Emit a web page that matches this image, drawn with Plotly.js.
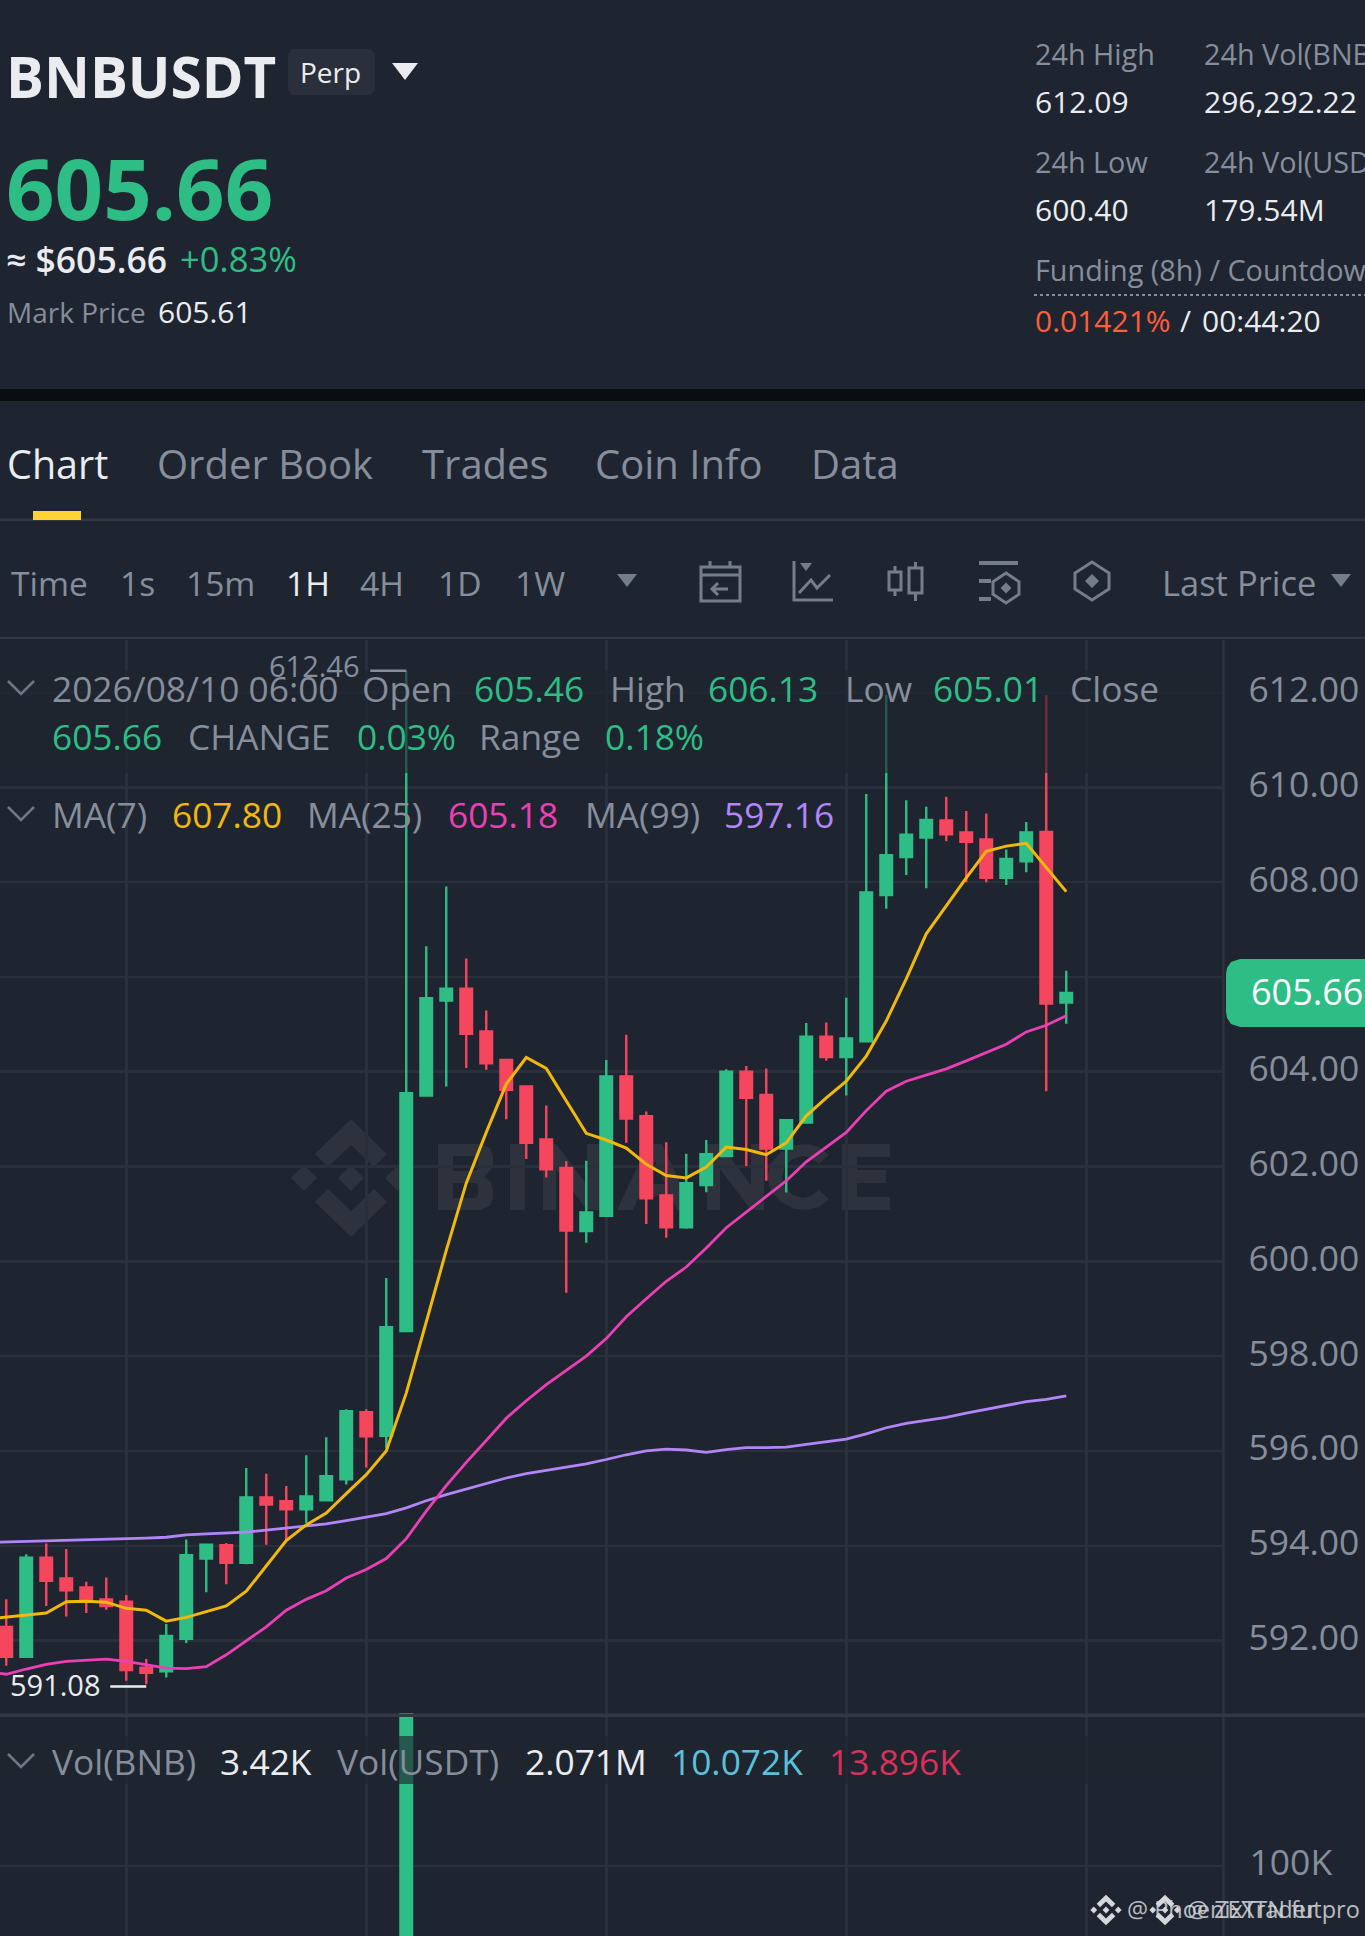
<!DOCTYPE html>
<html><head><meta charset="utf-8">
<script src="https://cdn.plot.ly/plotly-3.0.1.min.js"></script>
<style>html,body{margin:0;padding:0;background:#1e2530;overflow:hidden}#c{width:1365px;height:1936px}</style>
</head><body><div id="c"></div>
<script>
// ---------- data ----------
const opens  = [592.29,591.66,593.75,593.31,593.12,592.87,592.82,591.43,591.35,592.04,593.73,594.01,593.64,595.02,594.94,594.77,594.96,595.40,596.82,596.32,598.53,603.50,605.50,605.75,604.85,604.25,603.69,602.57,601.97,600.64,600.96,603.90,603.06,601.39,600.72,601.61,602.22,604.00,603.51,602.38,602.93,604.74,604.31,604.64,607.73,608.53,608.94,609.30,609.05,608.90,608.09,608.44,609.06,605.46];
const closes = [591.66,593.75,593.26,593.06,592.84,592.73,591.38,591.32,592.10,593.80,594.02,593.64,595.02,594.87,594.77,595.04,595.47,596.84,596.31,598.61,603.55,605.55,605.75,604.80,604.18,603.62,602.50,601.94,600.65,601.03,603.90,603.01,601.33,600.72,601.65,602.26,604.00,603.45,602.38,602.98,604.74,604.31,604.70,607.78,608.57,609.00,609.31,609.01,608.85,608.09,608.49,609.05,605.44,605.66];
const highs  = [592.87,593.82,594.05,593.93,593.24,593.33,592.96,591.61,592.35,594.13,594.05,594.06,595.64,595.52,595.26,595.91,596.29,596.88,596.88,599.65,612.46,606.65,607.91,606.39,605.29,604.25,603.69,603.29,602.11,602.12,604.25,604.78,603.16,602.51,602.27,602.56,604.05,604.12,604.07,603.00,605.03,605.04,605.56,609.86,611.95,609.73,609.59,609.80,609.50,609.45,608.69,609.27,611.94,606.13];
const lows   = [591.47,591.66,592.73,592.51,592.58,592.65,591.15,591.08,591.22,591.95,593.02,593.19,593.61,594.02,594.09,594.48,594.96,595.29,595.65,596.07,598.53,603.50,603.69,604.08,604.04,603.00,602.16,601.77,599.34,600.39,600.94,602.50,600.79,600.50,600.69,601.46,602.22,602.01,601.70,601.45,602.93,604.23,603.50,604.64,607.44,608.15,607.87,608.86,608.00,608.00,607.94,608.21,603.59,605.01];
const ma7    = [592.45,592.49,592.54,592.58,592.82,592.83,592.81,592.68,592.64,592.41,592.49,592.61,592.73,593.04,593.57,594.11,594.44,594.69,595.10,595.50,596.00,597.22,598.72,600.23,601.65,602.72,603.74,604.30,604.07,603.38,602.70,602.56,602.39,602.05,601.81,601.76,601.99,602.41,602.36,602.25,602.50,603.07,603.45,603.80,604.33,605.07,605.96,606.91,607.51,608.09,608.65,608.76,608.82,608.31,607.80];
const ma25   = [591.35,591.29,591.40,591.50,591.56,591.58,591.61,591.56,591.49,591.42,591.41,591.45,591.70,592.00,592.29,592.64,592.87,593.05,593.32,593.50,593.73,594.15,594.73,595.27,595.76,596.22,596.69,597.06,597.40,597.70,598.00,598.37,598.83,599.21,599.58,599.88,600.28,600.71,601.05,601.37,601.70,602.10,602.41,602.72,603.18,603.59,603.80,603.93,604.06,604.23,604.40,604.58,604.84,604.98,605.18];
const ma99   = [594.07,594.08,594.09,594.11,594.12,594.12,594.14,594.15,594.16,594.18,594.23,594.25,594.27,594.29,594.33,594.37,594.42,594.46,594.53,594.60,594.68,594.80,594.95,595.08,595.20,595.32,595.43,595.52,595.59,595.66,595.73,595.82,595.92,596.00,596.04,596.02,595.97,596.03,596.07,596.07,596.08,596.14,596.19,596.25,596.36,596.49,596.58,596.65,596.71,596.80,596.88,596.96,597.04,597.09,597.16];
const volX   = [20];
const volY   = [203000];
const priceTicks = [592,594,596,598,600,602,604,606,608,610,612];
const priceTickText = ["592.00","594.00","596.00","598.00","600.00","602.00","604.00","606.00","608.00","610.00","612.00"];
const timeTicks = [6,18,30,42,54];
const chartHigh = 612.46, chartLow = 591.08;

// ---------- helpers ----------
const W=1365,H=1936,BG='#1e2530',GRID='#2a303b',GREEN='#2ebd85',RED='#f6465d',GREY='#868e9c',WHITE='#eaecef',ICON='#757d8b',MARK='#2d323d';
const FONT='"Open Sans", Inter, sans-serif';
const X=p=>p/W, Y=p=>1-p/H;
const idx=Array.from({length:closes.length},(_,i)=>i);
const maX=[-1].concat(idx);
const ann=[],shp=[];
function T(x,y,text,size,color,o={}){ann.push({xref:'paper',yref:'paper',x:X(x-1),y:Y(y-1.2),text,showarrow:false,xanchor:o.anchor||'left',yanchor:'middle',borderpad:0,
  opacity:o.opacity===undefined?1:o.opacity,font:{family:o.family||FONT,size,color,weight:o.weight||400}});}
function path(pts,closed){return pts.map((p,i)=>(i?'L':'M')+X(p[0]).toFixed(6)+','+Y(p[1]).toFixed(6)).join(' ')+(closed?' Z':'');}
function fill(pts,color,layer,op){shp.push({type:'path',xref:'paper',yref:'paper',path:path(pts,true),fillcolor:color,opacity:op===undefined?1:op,line:{width:0},layer:layer||'above'});}
function stroke(pts,color,w,closed,dash){shp.push({type:'path',xref:'paper',yref:'paper',path:path(pts,closed),line:{color,width:w,dash:dash||'solid'},layer:'above'});}
function box(x0,y0,x1,y1,color,layer,op){fill([[x0,y0],[x1,y0],[x1,y1],[x0,y1]],color,layer,op);}
function diamond(cx,cy,r,color,layer,op){fill([[cx,cy-r],[cx+r,cy],[cx,cy+r],[cx-r,cy]],color,layer,op);}
function logo(cx,cy,s,color,layer){
  diamond(cx,cy,13*s,color,layer);diamond(cx-47*s,cy,13*s,color,layer);diamond(cx+47*s,cy,13*s,color,layer);
  const ch=[[0,-59],[36,-24],[23,-11],[0,-33],[-23,-11],[-36,-24]];
  fill(ch.map(p=>[cx+p[0]*s,cy+p[1]*s]),color,layer);
  fill(ch.map(p=>[cx+p[0]*s,cy-p[1]*s]),color,layer);
}
function glyph(x0,y0,subs){shp.push({type:'path',xref:'paper',yref:'paper',layer:'below',fillcolor:MARK,line:{width:0},path:subs.map(s=>path(s.map(p=>[x0+p[0],y0+p[1]]),true)).join(' ')});}
function hex(cx,cy,hw,hh,c,w){const k=hh*0.42;stroke([[cx,cy-hh],[cx+hw,cy-k],[cx+hw,cy+k],[cx,cy+hh],[cx-hw,cy+k],[cx-hw,cy-k]],c,w,true);}
function chev(y){stroke([[8,y-8],[21,y+5],[34,y-8]],'#6f7785',2.6,false);}

// ---------- header ----------
T(6,78,'BNBUSDT',56.5,WHITE,{weight:700});
fill([[292,49],[370,49],[375,54],[375,90],[370,95],[292,95],[288,90],[288,54]],'#2a303b');
T(331,73,'Perp',28,WHITE,{anchor:'center'});
fill([[392,63],[418,63],[405,80]],WHITE);
T(6,188,'605.66',85,GREEN,{weight:700});
T(6,260,'≈ $605.66',35.5,WHITE,{weight:600});
T(180,260,'+0.83%',34.6,GREEN);
T(7,313,'Mark Price',28,GREY);
T(158,313,'605.61',30,WHITE);
T(1035,55,'24h High',28.8,GREY); T(1204,55,'24h Vol(BNB)',28.8,GREY);
T(1035,103,'612.09',30,WHITE); T(1204,103,'296,292.22',30,WHITE);
T(1035,163,'24h Low',28.8,GREY); T(1204,163,'24h Vol(USDT)',28.8,GREY);
T(1035,211,'600.40',30,WHITE); T(1204,211,'179.54M',30,WHITE);
T(1035,271,'Funding (8h) / Countdown',28.8,GREY);
stroke([[1034,295],[1365,295]],GREY,2,false,'dot');
T(1035,322,'0.01421%',30,'#ff5d3b'); T(1180,322,'/',30,WHITE); T(1202,322,'00:44:20',30,WHITE);
box(0,389,W,401,'#0b0e11');
// tabs
T(7,465,'Chart',39.5,WHITE,{weight:500});
[['Order Book',157],['Trades',422],['Coin Info',595],['Data',811]].forEach(t=>T(t[1],465,t[0],40,GREY,{weight:500}));
box(0,518.5,W,521,'#313844');
box(33,511,81,520,'#fcd535');
box(0,637,W,639,'#313844');
// toolbar
T(11,584,'Time',33.5,GREY);
[['1s',120],['15m',186],['4H',360],['1D',438],['1W',515]].forEach(t=>T(t[1],584,t[0],33.5,GREY));
T(286,584,'1H',33.5,WHITE);
T(1162,584,'Last Price',34.5,GREY);
fill([[617,574],[637,574],[627,587]],ICON); fill([[1331,574],[1351,574],[1341,587]],ICON);
// calendar
stroke([[701,567],[740,567],[740,601],[701,601]],ICON,3,true); stroke([[701,575],[740,575]],ICON,3);
stroke([[710,561],[710,567]],ICON,3); stroke([[730,561],[730,567]],ICON,3);
stroke([[728,589],[712,589]],ICON,3); stroke([[718,583],[712,589],[718,595]],ICON,3);
// line chart
stroke([[794,561],[794,600],[833,600]],ICON,3); fill([[800,563],[812,563],[806,571]],ICON);
stroke([[799,593],[811,580],[817,588],[830,575]],ICON,3);
// candles
stroke([[889,572],[901,572],[901,590],[889,590]],ICON,3,true); stroke([[895,566],[895,572]],ICON,3); stroke([[895,590],[895,596]],ICON,3);
stroke([[909,568],[922,568],[922,593],[909,593]],ICON,3,true); stroke([[915.5,562],[915.5,568]],ICON,3); stroke([[915.5,593],[915.5,601]],ICON,3);
// list
stroke([[979,563],[1018,563]],ICON,4); stroke([[979,581],[991,581]],ICON,4); stroke([[979,599],[991,599]],ICON,4);
hex(1006,588,13,15,ICON,3); diamond(1006,588,5.5,ICON);
hex(1092,581,17,19,ICON,3); diamond(1092,581,7,ICON);

// ---------- chart furniture ----------
logo(351,1178,1,MARK,'below');
// BINANCE watermark sits behind the candles, so it is drawn as shapes
glyph(438,1144,[[[0,0],[42,0],[52,4],[55,12],[55,22],[50,29],[46,33],[52,37],[55,45],[55,54],[52,62],[42,66],[0,66]],[[15,12],[15,27],[38,27],[40,24],[40,15],[38,12]],[[15,39],[15,54],[38,54],[40,51],[40,42],[38,39]]]);
glyph(510,1144,[[[0,0],[15,0],[15,66],[0,66]]]);
const letterN=[[0,0],[13,0],[44,41],[44,0],[57,0],[57,66],[44,66],[13,25],[13,66],[0,66]];
glyph(543,1144,[letterN]);
glyph(617,1144,[[[31,0],[45,0],[76,66],[60,66],[54,52],[22,52],[16,66],[0,66]],[[38,17],[28,40],[48,40]]]);
glyph(707,1144,[letterN]);
glyph(767,1144,[[[40,0],[52,3],[62,11],[52,20],[44,14],[36,12],[26,15],[18,22],[15,33],[18,44],[26,51],[36,54],[44,52],[52,46],[62,55],[52,63],[40,66],[28,65],[14,58],[4,47],[0,33],[4,19],[14,8],[28,1]]]);
glyph(842,1144,[[[0,0],[48,0],[48,13],[15,13],[15,26],[44,26],[44,39],[15,39],[15,53],[48,53],[48,66],[0,66]]]);
box(0,670,1222,773,BG,'above',0.65);
box(0,1736,1222,1784,BG,'above',0.65);
stroke([[1223.5,640],[1223.5,1936]],'#2c333f',2.5);
box(0,1713.5,W,1717,'#323945');
// price tag
fill([[1240,959],[1365,959],[1365,1027],[1240,1027],[1231,1024],[1227,1018],[1226,1012],[1226,974],[1227,968],[1231,962]],GREEN);
T(1251,993,'605.66',36,'#ffffff',{weight:500});
// legends
const LS=35.3;
chev(689); chev(815); chev(1762);
[['2026/08/10 06:00',52,GREY],['Open',362,GREY],['605.46',474,GREEN],['High',610,GREY],['606.13',708,GREEN],['Low',845,GREY],['605.01',933,GREEN],['Close',1070,GREY]].forEach(t=>T(t[1],689,t[0],LS,t[2]));
[['605.66',52,GREEN],['CHANGE',188,GREY],['0.03%',357,GREEN],['Range',479,GREY],['0.18%',605,GREEN]].forEach(t=>T(t[1],737,t[0],LS,t[2]));
[['MA(7)',52,GREY],['607.80',172,'#f0b90b'],['MA(25)',307,GREY],['605.18',448,'#eb40b5'],['MA(99)',585,GREY],['597.16',724,'#b385f8']].forEach(t=>T(t[1],815,t[0],LS,t[2]));
[['Vol(BNB)',52,GREY],['3.42K',220,WHITE],['Vol(USDT)',337,GREY],['2.071M',525,WHITE],['10.072K',671,'#5cc0dc'],['13.896K',829,'#d8315b']].forEach(t=>T(t[1],1762,t[0],LS,t[2]));
// high / low marks, placed from the data
ann.push({xref:'x',yref:'y',x:18.2,y:chartHigh+0.12,text:'612.46',showarrow:false,xanchor:'right',yanchor:'middle',xshift:-8,font:{family:FONT,size:29,color:GREY}});
shp.push({type:'line',xref:'x',yref:'y',x0:18.2,x1:20,y0:chartHigh,y1:chartHigh,line:{color:GREY,width:2.5},layer:'above'});
ann.push({xref:'x',yref:'y',x:5.2,y:chartLow,text:'591.08',showarrow:false,xanchor:'right',yanchor:'middle',xshift:-7,font:{family:FONT,size:29,color:WHITE}});
shp.push({type:'line',xref:'x',yref:'y',x0:5.2,x1:7,y0:chartLow-0.05,y1:chartLow-0.05,line:{color:WHITE,width:2.5},layer:'above'});
// footer watermark
logo(1106,1910,0.26,'#d4d7dc','above'); logo(1165,1910,0.26,'#d4d7dc','above');
T(1127,1910,'@ PhoenixTrader',23.5,'#d4d7dc',{opacity:0.85});
T(1187,1910,'@ ZEXTN futpro',23.5,'#d4d7dc',{opacity:0.85});

// ---------- traces ----------
const line=(y,c,w)=>({type:'scatter',mode:'lines',x:maX,y,line:{color:c,width:w},hoverinfo:'skip',showlegend:false,xaxis:'x',yaxis:'y'});
const data=[
 {type:'candlestick',x:idx,open:opens,high:highs,low:lows,close:closes,xaxis:'x',yaxis:'y',showlegend:false,whiskerwidth:0,
  increasing:{line:{color:GREEN,width:2.4},fillcolor:GREEN},decreasing:{line:{color:RED,width:2.4},fillcolor:RED}},
 line(ma99,'#b385f8',2.8),line(ma25,'#eb40b5',2.8),line(ma7,'#f0b90b',3),
 {type:'bar',x:volX,y:volY,width:0.7,marker:{color:GREEN,line:{width:0}},xaxis:'x',yaxis:'y2',showlegend:false}
];
const layout={
 width:W,height:H,margin:{l:0,r:0,t:0,b:0},paper_bgcolor:BG,plot_bgcolor:BG,showlegend:false,boxgap:0.42,boxgroupgap:0,
 xaxis:{domain:[0,1223.5/W],range:[-0.3125,60.8625],type:'linear',anchor:'y',tickvals:timeTicks,showticklabels:false,ticks:'',showgrid:true,gridcolor:GRID,gridwidth:2.5,zeroline:false,showline:false,rangeslider:{visible:false}},
 yaxis:{domain:[Y(1715),Y(640)],range:[590.43,613.108],side:'right',anchor:'x',tickvals:priceTicks,ticktext:priceTickText,ticks:'',ticklabelstandoff:24,ticklabelshift:-3,tickfont:{family:FONT,size:35.5,color:GREY},gridcolor:GRID,gridwidth:2.5,zeroline:false,showline:false},
 yaxis2:{domain:[0,Y(1713)],range:[53333,202000],side:'right',anchor:'x',tickvals:[100000],ticktext:['100K'],ticks:'',ticklabelstandoff:25,ticklabelshift:-3,tickfont:{family:FONT,size:35.5,color:GREY},gridcolor:GRID,gridwidth:2.5,zeroline:false,showline:false},
 shapes:shp,annotations:ann
};
Plotly.newPlot('c',data,layout,{displayModeBar:false,staticPlot:true});
</script></body></html>
